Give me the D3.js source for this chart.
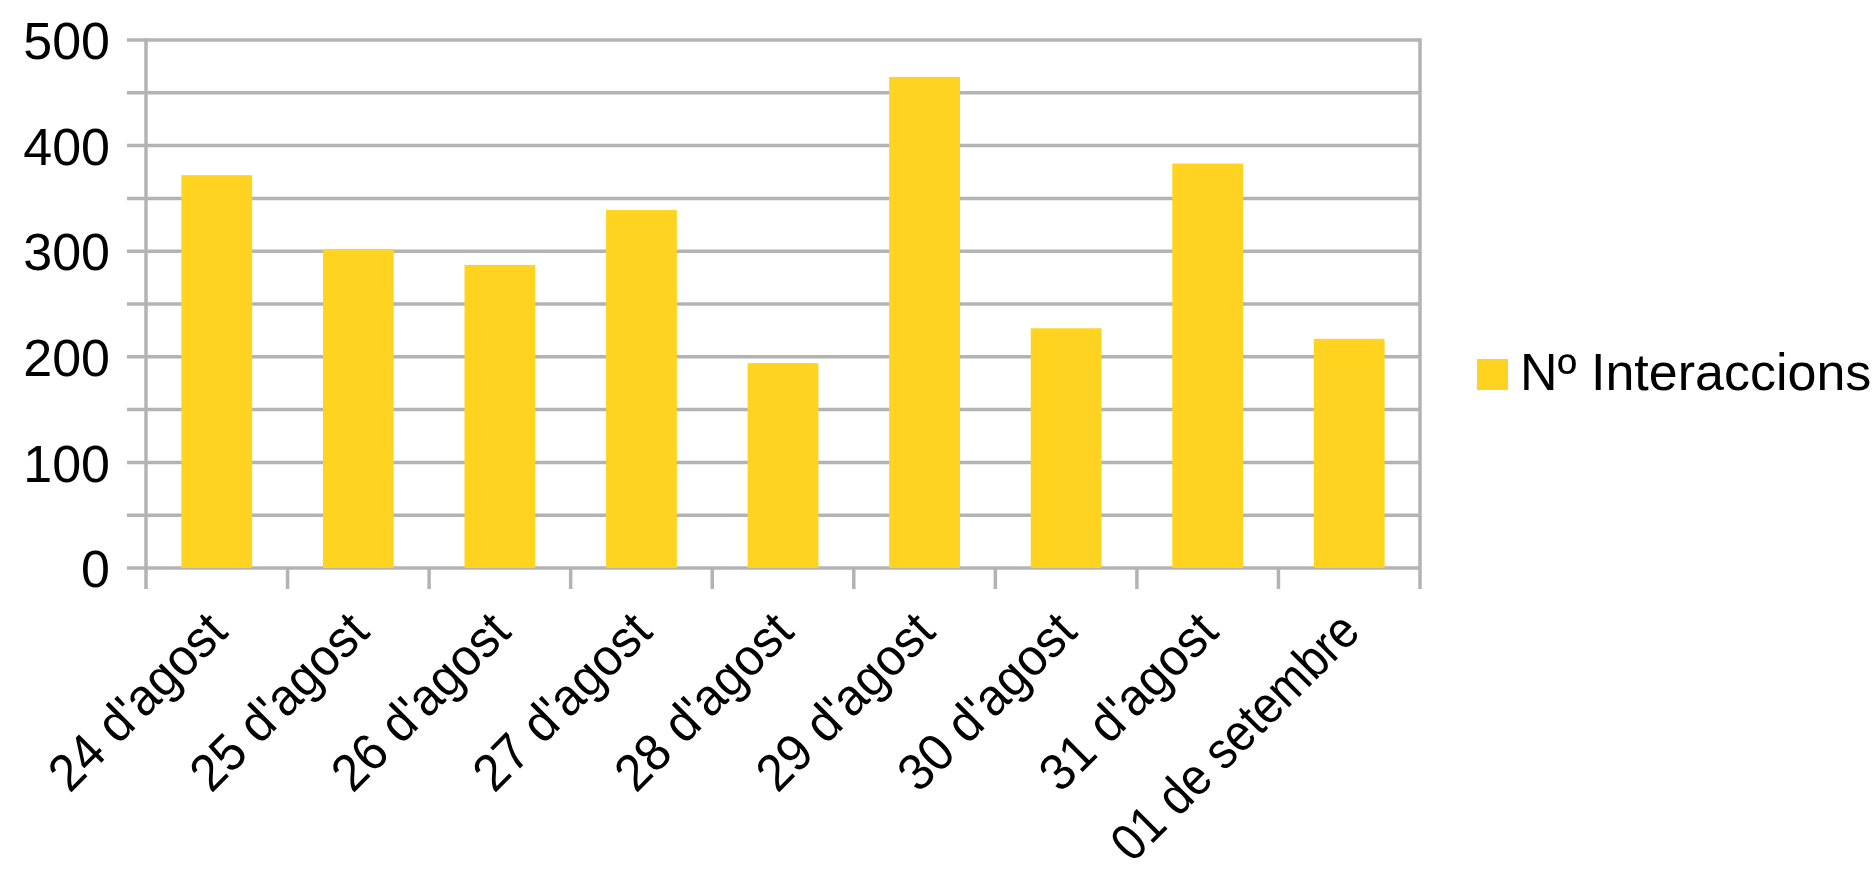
<!DOCTYPE html>
<html>
<head>
<meta charset="utf-8">
<script src="https://cdn.jsdelivr.net/npm/d3@7"></script>
<style>
  body { margin: 0; background: #fff; }
  svg { display: block; }
  text { font-family: "Liberation Sans", Arial, sans-serif; fill: #000; }
</style>
</head>
<body>
<svg id="chart" width="1875" height="880"></svg>
<script>
// dades
const categories = ["24 d'agost", "25 d'agost", "26 d'agost", "27 d'agost", "28 d'agost",
                    "29 d'agost", "30 d'agost", "31 d'agost", "01 de setembre"];
const interaccions = [372, 302, 287, 339, 194, 465, 227, 383, 217];
const yLabelTicks = [0, 100, 200, 300, 400, 500];
const gridTicks = [0, 50, 100, 150, 200, 250, 300, 350, 400, 450, 500];
const seriesName = "Nº Interaccions";

const svg = d3.select("#chart");
const plotLeft = 146, plotRight = 1420, plotTop = 40, plotBottom = 568;
const gridColor = "#b3b3b3";
const barColor = "#ffd320";

const x = d3.scaleBand().domain(categories).range([plotLeft, plotRight])
    .paddingInner(0.5).paddingOuter(0.25);
const y = d3.scaleLinear().domain([0, 500]).range([plotBottom, plotTop]);

// linies de la graella (amb petita marca a l'esquerra)
svg.append("g").selectAll("line")
    .data(gridTicks)
    .enter().append("line")
    .attr("x1", plotLeft - 19).attr("x2", plotRight)
    .attr("y1", d => y(d)).attr("y2", d => y(d))
    .style("stroke", gridColor).style("stroke-width", 3.5);

// barres
svg.append("g").selectAll(".bar")
    .data(interaccions)
    .enter().append("rect")
    .attr("class", "bar")
    .attr("x", (d, i) => x(categories[i]))
    .attr("y", d => y(d))
    .attr("width", x.bandwidth())
    .attr("height", d => plotBottom - y(d))
    .style("fill", barColor);

// eixos verticals (esquerra i dreta)
[plotLeft, plotRight].forEach(px => {
    svg.append("line")
        .attr("x1", px).attr("x2", px)
        .attr("y1", plotTop - 1.75).attr("y2", plotBottom + 21)
        .style("stroke", gridColor).style("stroke-width", 3.5);
});

// marques de categoria
const bounds = d3.range(categories.length + 1)
    .map(i => plotLeft + i * (plotRight - plotLeft) / categories.length);
svg.append("g").selectAll("line")
    .data(bounds.slice(1, -1))
    .enter().append("line")
    .attr("x1", d => d).attr("x2", d => d)
    .attr("y1", plotBottom).attr("y2", plotBottom + 21)
    .style("stroke", gridColor).style("stroke-width", 3.5);

// etiquetes eix Y
const yAxis = svg.append("g")
    .attr("transform", `translate(${plotLeft - 36},0)`)
    .call(d3.axisLeft(y).tickValues(yLabelTicks).tickSize(0).tickPadding(0));
yAxis.select(".domain").remove();
yAxis.selectAll("text")
    .style("font-size", "52px")
    .style("font-family", "'Liberation Sans', Arial, sans-serif")
    .attr("fill", "#000")
    .attr("dy", "0.36em");

// etiquetes eix X, girades 45 graus (una mica estretes perque hi capiguen)
const labelY = plotBottom + 66;
const maxLabelLen = (864 - labelY) / Math.SQRT1_2;
svg.append("g").selectAll("text")
    .data(categories)
    .enter().append("text")
    .attr("text-anchor", "end")
    .style("font-size", "52px")
    .text(d => d)
    .each(function(d) {
        const len = this.getComputedTextLength();
        let sx = 0.95;
        if (len * sx > maxLabelLen) sx = maxLabelLen / len;
        const cx = x(d) + x.bandwidth() / 2 + 13;
        d3.select(this).attr("transform", `translate(${cx},${labelY}) rotate(-45) scale(${sx},1)`);
    });

// llegenda
const legend = svg.append("g").attr("transform", "translate(1477,359)");
legend.append("rect")
    .attr("width", 31).attr("height", 31)
    .style("fill", barColor);
legend.append("text")
    .attr("x", 43).attr("y", 31)
    .style("font-size", "52px")
    .text(seriesName);
</script>
</body>
</html>
